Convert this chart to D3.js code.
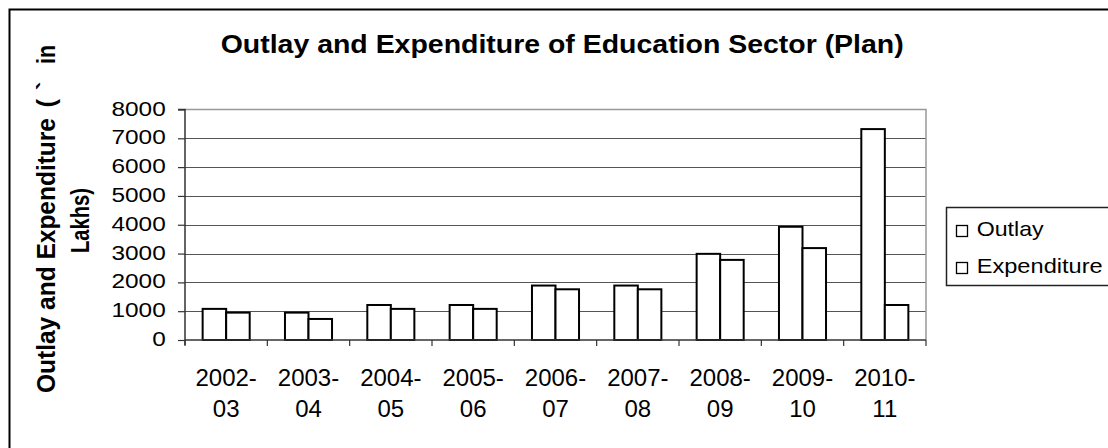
<!DOCTYPE html>
<html>
<head>
<meta charset="utf-8">
<script src="https://cdn.jsdelivr.net/npm/d3@7"></script>
<style>
  html, body { margin: 0; padding: 0; background: #fff; }
  svg { display: block; font-family: "Liberation Sans", Arial, sans-serif; }
</style>
</head>
<body>
<svg id="chart" width="1108" height="448"></svg>
<script>
// ---- data ----
const categories = ["2002-03", "2003-04", "2004-05", "2005-06", "2006-07", "2007-08", "2008-09", "2009-10", "2010-11"];
const outlay = [1080, 950, 1215, 1215, 1890, 1890, 2990, 3930, 7320];
const expenditure = [950, 730, 1080, 1080, 1760, 1760, 2780, 3190, 1215];
const seriesNames = ["Outlay", "Expenditure"];
const yTicks = [0, 1000, 2000, 3000, 4000, 5000, 6000, 7000, 8000];
const titleText = "Outlay and Expenditure of Education Sector (Plan)";
const yTitleParts = ["Outlay and Expenditure", "(", "`", "in"];
const yTitleLine2 = "Lakhs)";

// ---- layout ----
const svg = d3.select("#chart");
const plot = { left: 185, right: 926, top: 109.5, bottom: 340 };

const x = d3.scaleBand().domain(categories).range([plot.left, plot.right]).paddingInner(0).paddingOuter(0);
const xs = d3.scaleBand().domain(seriesNames).range([0, x.bandwidth()]).paddingInner(0).paddingOuter(0.75);
const y = d3.scaleLinear().domain([0, 8000]).range([plot.bottom, plot.top]);

// outer border
svg.append("rect").attr("x", 9.5).attr("y", 9.5).attr("width", 1120).attr("height", 460)
  .attr("fill", "none").attr("stroke", "#000").attr("stroke-width", 2);

// title
svg.append("text").attr("x", 220.7).attr("y", 53.3)
  .attr("font-size", 25.5).attr("font-weight", "bold")
  .attr("textLength", 683).attr("lengthAdjust", "spacingAndGlyphs")
  .text(titleText);

// gridlines
svg.append("g").selectAll("line").data(yTicks.filter(d => d > 0 && d < 8000)).join("line")
  .attr("x1", plot.left).attr("x2", plot.right)
  .attr("y1", d => Math.round(y(d)) + 0.5).attr("y2", d => Math.round(y(d)) + 0.5)
  .attr("stroke", "#555").attr("stroke-width", 1.2);

// plot border top/right
svg.append("path")
  .attr("d", `M${plot.left},${plot.top}H${plot.right}V${plot.bottom}`)
  .attr("fill", "none").attr("stroke", "#999").attr("stroke-width", 1.5);

// bars
const data = categories.map((c, i) => ({ c, vals: [outlay[i], expenditure[i]] }));
const groups = svg.append("g").selectAll("g").data(data).join("g")
  .attr("transform", d => `translate(${x(d.c)},0)`);
groups.selectAll("rect").data(d => d.vals.map((v, j) => ({ s: seriesNames[j], v }))).join("rect")
  .attr("x", d => xs(d.s))
  .attr("width", xs.bandwidth())
  .attr("y", d => y(d.v))
  .attr("height", d => y(0) - y(d.v))
  .attr("fill", "#fff").attr("stroke", "#000").attr("stroke-width", 2);

// y axis
const yAxis = d3.axisLeft(y).tickValues(yTicks).tickSize(7).tickFormat("");
const yg = svg.append("g").attr("transform", `translate(${plot.left},0)`).call(yAxis);
yg.select(".domain").attr("stroke", "#333").attr("stroke-width", 1.5).attr("d", `M-7,${plot.top}H0V${plot.bottom + 5}`);
yg.selectAll(".tick line").attr("stroke", "#333").attr("stroke-width", 1.2);

// y tick labels
svg.append("g").selectAll("text").data(yTicks).join("text")
  .attr("transform", d => `translate(165.7,${y(d) + 6}) scale(1.25,1)`)
  .attr("text-anchor", "end").attr("font-size", 19.5).attr("fill", "#000")
  .text(d => d);

// x axis
const xAxis = d3.axisBottom(x).tickSize(0).tickFormat("");
const xg = svg.append("g").attr("transform", `translate(0,${plot.bottom})`).call(xAxis);
xg.select(".domain").attr("stroke", "#333").attr("stroke-width", 1.5).attr("d", `M${plot.left},0H${plot.right}`);
const bounds = categories.map(c => x(c)).concat([plot.right]);
xg.selectAll(".btick").data(bounds).join("line").attr("class", "btick")
  .attr("x1", d => d).attr("x2", d => d).attr("y1", 0).attr("y2", 6)
  .attr("stroke", "#333").attr("stroke-width", 1.2);

// x labels (two lines)
const xl = svg.append("g").selectAll("text").data(categories).join("text")
  .attr("text-anchor", "middle").attr("font-size", 24).attr("fill", "#000");
xl.append("tspan").attr("x", d => x(d) + x.bandwidth() / 2).attr("y", 385.7).text(d => d.split("-")[0] + "-");
xl.append("tspan").attr("x", d => x(d) + x.bandwidth() / 2).attr("y", 417.3).text(d => d.split("-")[1]);

// y title (rotated, two lines)
const yt = svg.append("g").attr("font-weight", "bold").attr("font-size", 25.5);
const l1 = yt.append("g").attr("transform", "translate(55,0) rotate(-90)");
const partStart = [393, 107.5, 90, 64];   // screen y where each part begins (reading upward)
const partLen = [275, null, null, 19];
yTitleParts.forEach((p, i) => {
  const t = l1.append("text").attr("x", -partStart[i]).attr("y", 0).text(p);
  if (partLen[i]) t.attr("textLength", partLen[i]).attr("lengthAdjust", "spacingAndGlyphs");
});
yt.append("text").attr("transform", "translate(89,0) rotate(-90)")
  .attr("x", -253).attr("y", 0)
  .attr("textLength", 65).attr("lengthAdjust", "spacingAndGlyphs")
  .text(yTitleLine2);

// legend
const lg = svg.append("g");
lg.append("rect").attr("x", 946.5).attr("y", 207.5).attr("width", 200).attr("height", 78)
  .attr("fill", "#fff").attr("stroke", "#222").attr("stroke-width", 1.5);
const legendY = [236, 273];
const legendLen = [67, 126];
seriesNames.forEach((s, i) => {
  lg.append("rect").attr("x", 956.5).attr("y", legendY[i] - 10.5).attr("width", 11).attr("height", 11)
    .attr("fill", "#fff").attr("stroke", "#000").attr("stroke-width", 1.3);
  lg.append("text").attr("x", 976.7).attr("y", legendY[i]).attr("font-size", 21)
    .attr("textLength", legendLen[i]).attr("lengthAdjust", "spacingAndGlyphs").text(s);
});
</script>
</body>
</html>
